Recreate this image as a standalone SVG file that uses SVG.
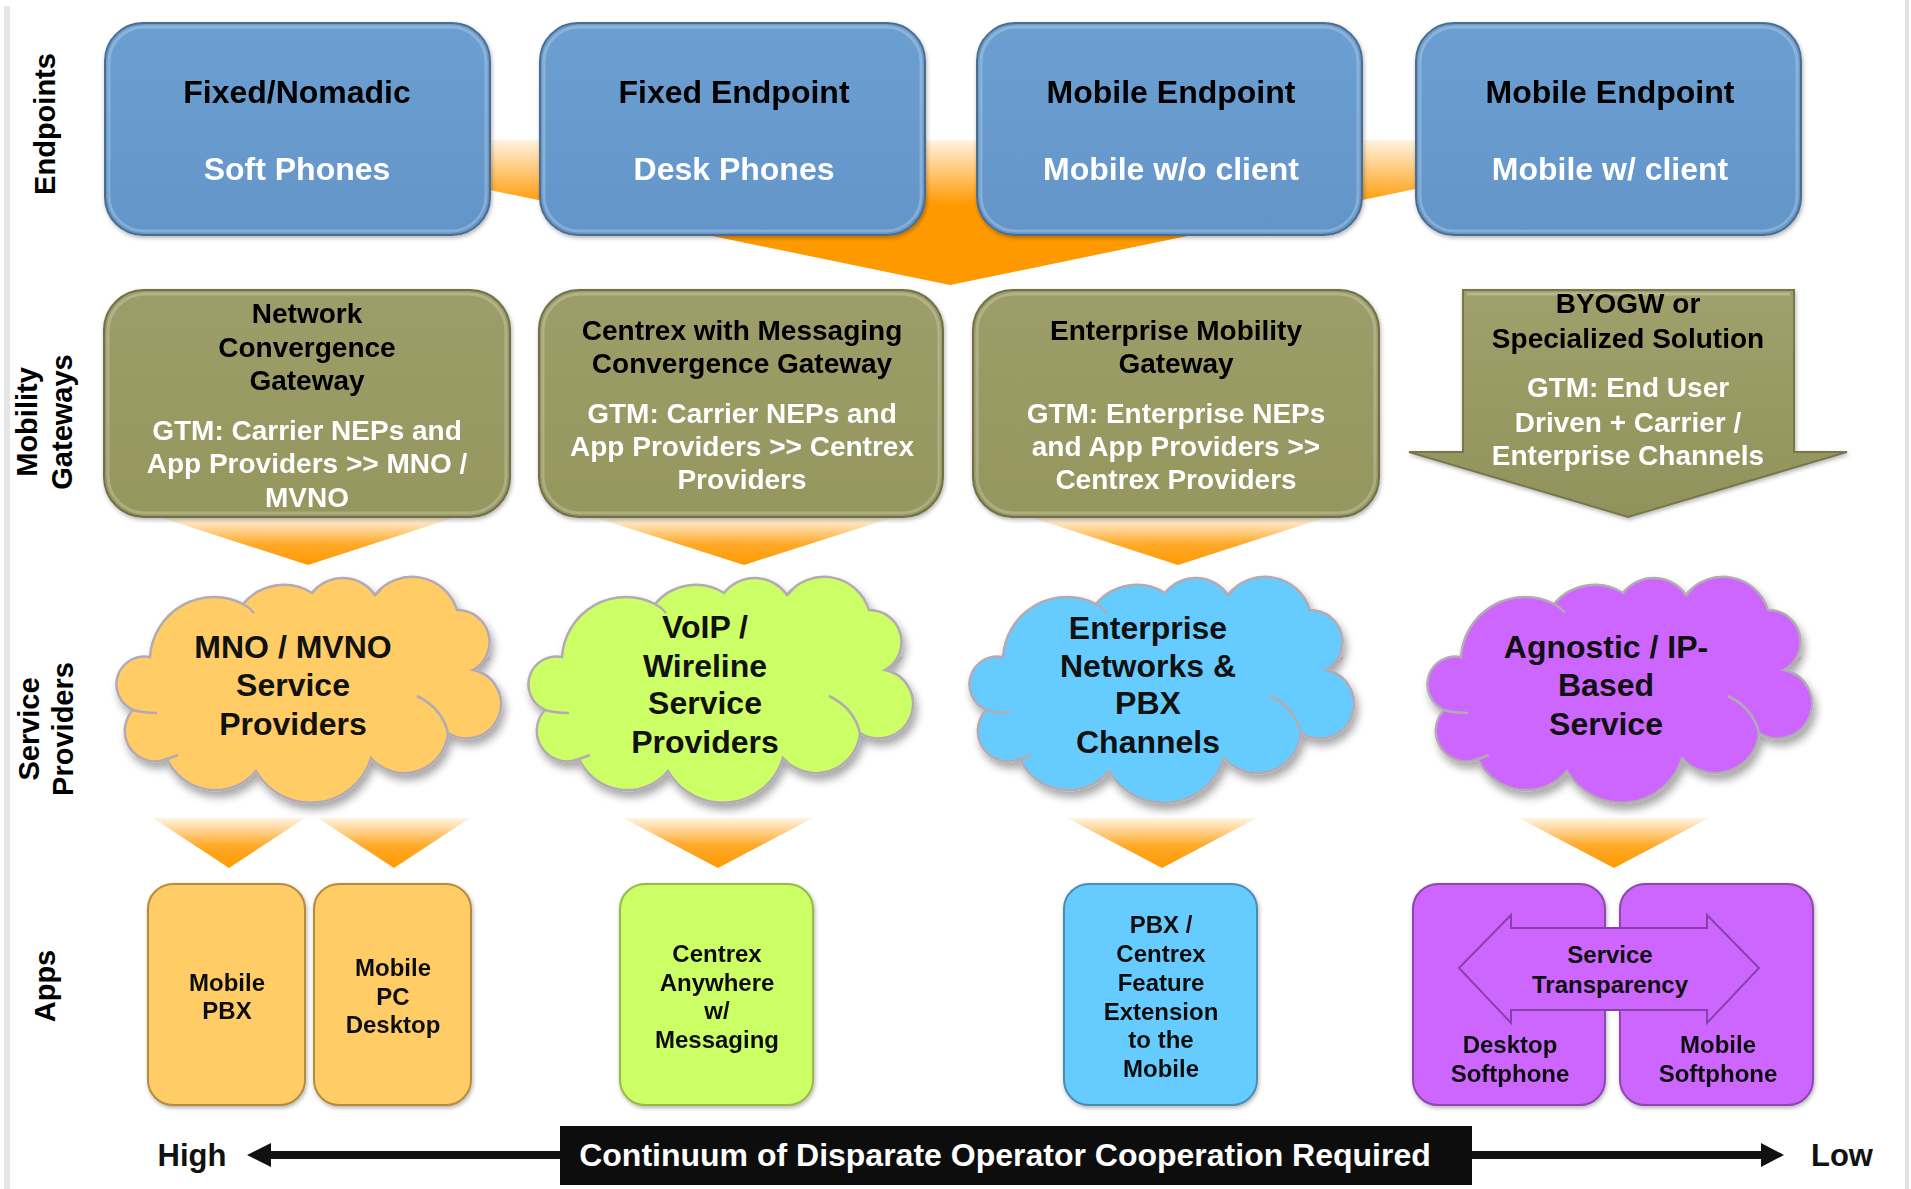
<svg xmlns="http://www.w3.org/2000/svg" width="1911" height="1189" viewBox="0 0 1911 1189">
<defs>
<style>
.t{font-family:"Liberation Sans",Arial,Helvetica,sans-serif;font-weight:bold;text-anchor:middle}
.ep1{font-size:32px;fill:#000}
.ep2{font-size:32px;fill:#fff}
.gw1{font-size:28px;fill:#000}
.gw2{font-size:28px;fill:#fff}
.cl{font-size:32px;fill:#111}
.ap{font-size:24px;fill:#111}
.side{font-size:29px;fill:#000}
.ep{fill:url(#gBlue);stroke:#4d6d8f;stroke-width:2}
.gw{fill:url(#gOlive);stroke:#6f6f48;stroke-width:2}
.rim{fill:none;stroke:#ffffff;stroke-opacity:0.22;stroke-width:3}
.cloudline{fill:none;stroke:#b3aab3;stroke-width:2.5}
.tri{fill:url(#gOr)}
.apo{fill:#ffcc66;stroke:#b38c3e;stroke-width:2}
.apg{fill:#ccff66;stroke:#98b84a;stroke-width:2}
.apb{fill:#66ccff;stroke:#4a8db3;stroke-width:2}
.app{fill:#cc66ff;stroke:#8e46ad;stroke-width:2}
</style>
<linearGradient id="gBlue" x1="0" y1="0" x2="0" y2="1">
<stop offset="0" stop-color="#6c9fd1"/><stop offset="1" stop-color="#6395c9"/>
</linearGradient>
<linearGradient id="gOlive" x1="0" y1="0" x2="0" y2="1">
<stop offset="0" stop-color="#9d9d69"/><stop offset="1" stop-color="#96965f"/>
</linearGradient>
<linearGradient id="gOr" x1="0" y1="0" x2="0" y2="1">
<stop offset="0" stop-color="#fff4e3"/><stop offset="0.55" stop-color="#ffaa2a"/><stop offset="1" stop-color="#ff9900"/>
</linearGradient>
<linearGradient id="gBig" gradientUnits="userSpaceOnUse" x1="0" y1="140" x2="0" y2="205">
<stop offset="0" stop-color="#fff3e2"/><stop offset="1" stop-color="#ff9900"/>
</linearGradient>
<linearGradient id="gArrow" x1="0" y1="0" x2="0" y2="1">
<stop offset="0" stop-color="#a0a06c"/><stop offset="1" stop-color="#92925c"/>
</linearGradient>
<filter id="sh" x="-10%" y="-10%" width="130%" height="140%">
<feGaussianBlur in="SourceAlpha" stdDeviation="4"/>
<feOffset dx="3" dy="6"/>
<feComponentTransfer><feFuncA type="linear" slope="0.35"/></feComponentTransfer>
<feMerge><feMergeNode/><feMergeNode in="SourceGraphic"/></feMerge>
</filter>
<filter id="sh2" x="-10%" y="-10%" width="130%" height="130%">
<feGaussianBlur in="SourceAlpha" stdDeviation="2"/>
<feOffset dx="1" dy="2"/>
<feComponentTransfer><feFuncA type="linear" slope="0.3"/></feComponentTransfer>
<feMerge><feMergeNode/><feMergeNode in="SourceGraphic"/></feMerge>
</filter>
<path id="cloud" d="M35,80 A64,64 0 0 1 128,27 A53,53 0 0 1 197,16 A39,39 0 0 1 260,18 A47,47 0 0 1 342,33 A32,32 0 0 1 358,93 A34.5,34.5 0 1 1 333,156 A44,44 0 0 1 256,181 A63,63 0 0 1 141,194 A53,53 0 0 1 52,182 A30.5,30.5 0 0 1 18,133 A28,28 0 0 1 35,80 Z"/>
<path id="cloudIn" d="M302,119 Q327,131 333,156 M358,93 Q368,88 375,80 M18,133 Q28,136 42,136 M128,27 Q134,30 139,36 M52,182 Q58,180 63,178 M260,18 Q263,15 266,12"/>
</defs>

<rect x="0" y="0" width="1911" height="1189" fill="#ffffff"/>
<rect x="4" y="6" width="6" height="1183" fill="#e6e6e6"/>
<rect x="1905" y="0" width="4" height="1189" fill="#e2e2e2"/>

<!-- side labels -->
<g id="side-labels" class="t side">
<text transform="translate(55,124) rotate(-90)">Endpoints</text>
<text transform="translate(37,422) rotate(-90)">Mobility</text>
<text transform="translate(72,422) rotate(-90)">Gateways</text>
<text transform="translate(39,729) rotate(-90)">Service</text>
<text transform="translate(73,729) rotate(-90)">Providers</text>
<text transform="translate(55,986) rotate(-90)">Apps</text>
</g>

<!-- connectors (orange flow arrows) -->
<g id="connectors">
<polygon points="470,140 1430,140 1430,186 950,285 470,186" fill="url(#gBig)"/>
<polygon class="tri" points="162,518 453,518 308,565"/>
<polygon class="tri" points="597,518 891,518 744,565"/>
<polygon class="tri" points="1033,518 1324,518 1178,565"/>
<polygon class="tri" points="153,818 305,818 229,868"/>
<polygon class="tri" points="318,818 470,818 394,868"/>
<polygon class="tri" points="623,818 813,818 718,868"/>
<polygon class="tri" points="1067,818 1257,818 1162,868"/>
<polygon class="tri" points="1519,818 1709,818 1614,868"/>
</g>

<!-- Endpoints -->
<g id="ep-fixed-nomadic" filter="url(#sh2)">
<rect class="ep" x="105" y="23" width="385" height="212" rx="38"/>
<rect class="rim" x="109" y="27" width="377" height="204" rx="35"/>
<text class="t ep1" x="297" y="103">Fixed/Nomadic</text>
<text class="t ep2" x="297" y="180">Soft Phones</text>
</g>
<g id="ep-fixed-endpoint" filter="url(#sh2)">
<rect class="ep" x="540" y="23" width="385" height="212" rx="38"/>
<rect class="rim" x="544" y="27" width="377" height="204" rx="35"/>
<text class="t ep1" x="734" y="103">Fixed Endpoint</text>
<text class="t ep2" x="734" y="180">Desk Phones</text>
</g>
<g id="ep-mobile-noclient" filter="url(#sh2)">
<rect class="ep" x="977" y="23" width="385" height="212" rx="38"/>
<rect class="rim" x="981" y="27" width="377" height="204" rx="35"/>
<text class="t ep1" x="1171" y="103">Mobile Endpoint</text>
<text class="t ep2" x="1171" y="180">Mobile w/o client</text>
</g>
<g id="ep-mobile-client" filter="url(#sh2)">
<rect class="ep" x="1416" y="23" width="385" height="212" rx="38"/>
<rect class="rim" x="1420" y="27" width="377" height="204" rx="35"/>
<text class="t ep1" x="1610" y="103">Mobile Endpoint</text>
<text class="t ep2" x="1610" y="180">Mobile w/ client</text>
</g>

<!-- Mobility Gateways -->
<g id="gw-network" filter="url(#sh2)">
<rect class="gw" x="104" y="290" width="406" height="227" rx="40"/>
<rect class="rim" x="108" y="294" width="398" height="219" rx="37"/>
<text class="t gw1" x="307" y="323">Network</text>
<text class="t gw1" x="307" y="357">Convergence</text>
<text class="t gw1" x="307" y="390">Gateway</text>
<text class="t gw2" x="307" y="440">GTM: Carrier NEPs and</text>
<text class="t gw2" x="307" y="473">App Providers &gt;&gt; MNO /</text>
<text class="t gw2" x="307" y="507">MVNO</text>
</g>
<g id="gw-centrex" filter="url(#sh2)">
<rect class="gw" x="539" y="290" width="404" height="227" rx="40"/>
<rect class="rim" x="543" y="294" width="396" height="219" rx="37"/>
<text class="t gw1" x="742" y="340">Centrex with Messaging</text>
<text class="t gw1" x="742" y="373">Convergence Gateway</text>
<text class="t gw2" x="742" y="423">GTM: Carrier NEPs and</text>
<text class="t gw2" x="742" y="456">App Providers &gt;&gt; Centrex</text>
<text class="t gw2" x="742" y="489">Providers</text>
</g>
<g id="gw-enterprise" filter="url(#sh2)">
<rect class="gw" x="973" y="290" width="406" height="227" rx="40"/>
<rect class="rim" x="977" y="294" width="398" height="219" rx="37"/>
<text class="t gw1" x="1176" y="340">Enterprise Mobility</text>
<text class="t gw1" x="1176" y="373">Gateway</text>
<text class="t gw2" x="1176" y="423">GTM: Enterprise NEPs</text>
<text class="t gw2" x="1176" y="456">and App Providers &gt;&gt;</text>
<text class="t gw2" x="1176" y="489">Centrex Providers</text>
</g>
<g id="gw-byogw" filter="url(#sh2)">
<polygon points="1463,290 1794,290 1794,452 1847,452 1628,517 1409,452 1463,452" fill="url(#gArrow)" stroke="#77774c" stroke-width="2"/>
<polyline points="1467,294 1790,294" fill="none" stroke="#ffffff" stroke-opacity="0.25" stroke-width="3"/>
<text class="t gw1" x="1628" y="313">BYOGW or</text>
<text class="t gw1" x="1628" y="348">Specialized Solution</text>
<text class="t gw2" x="1628" y="397">GTM: End User</text>
<text class="t gw2" x="1628" y="432">Driven + Carrier /</text>
<text class="t gw2" x="1628" y="465">Enterprise Channels</text>
</g>

<!-- Service Providers (clouds) -->
<g id="sp-mno">
<g transform="translate(115,577)">
<use href="#cloud" fill="#ffcc66" stroke="#b3aab3" stroke-width="2.5" filter="url(#sh)"/>
<use href="#cloudIn" class="cloudline"/>
</g>
<text class="t cl" x="293" y="658">MNO / MVNO</text>
<text class="t cl" x="293" y="696">Service</text>
<text class="t cl" x="293" y="735">Providers</text>
</g>
<g id="sp-voip">
<g transform="translate(527,577)">
<use href="#cloud" fill="#ccff66" stroke="#b3aab3" stroke-width="2.5" filter="url(#sh)"/>
<use href="#cloudIn" class="cloudline"/>
</g>
<text class="t cl" x="705" y="638">VoIP /</text>
<text class="t cl" x="705" y="677">Wireline</text>
<text class="t cl" x="705" y="714">Service</text>
<text class="t cl" x="705" y="753">Providers</text>
</g>
<g id="sp-enterprise">
<g transform="translate(968,577)">
<use href="#cloud" fill="#66ccff" stroke="#b3aab3" stroke-width="2.5" filter="url(#sh)"/>
<use href="#cloudIn" class="cloudline"/>
</g>
<text class="t cl" x="1148" y="639">Enterprise</text>
<text class="t cl" x="1148" y="677">Networks &amp;</text>
<text class="t cl" x="1148" y="714">PBX</text>
<text class="t cl" x="1148" y="753">Channels</text>
</g>
<g id="sp-agnostic">
<g transform="translate(1426,577)">
<use href="#cloud" fill="#cc66ff" stroke="#b3aab3" stroke-width="2.5" filter="url(#sh)"/>
<use href="#cloudIn" class="cloudline"/>
</g>
<text class="t cl" x="1606" y="658">Agnostic / IP-</text>
<text class="t cl" x="1606" y="696">Based</text>
<text class="t cl" x="1606" y="735">Service</text>
</g>

<!-- Apps -->
<g id="app-mobile-pbx" filter="url(#sh2)">
<rect class="apo" x="148" y="884" width="157" height="221" rx="25"/>
<text class="t ap" x="227" y="991">Mobile</text>
<text class="t ap" x="227" y="1019">PBX</text>
</g>
<g id="app-mobile-pc" filter="url(#sh2)">
<rect class="apo" x="314" y="884" width="157" height="221" rx="25"/>
<text class="t ap" x="393" y="976">Mobile</text>
<text class="t ap" x="393" y="1005">PC</text>
<text class="t ap" x="393" y="1033">Desktop</text>
</g>
<g id="app-centrex" filter="url(#sh2)">
<rect class="apg" x="620" y="884" width="193" height="221" rx="25"/>
<text class="t ap" x="717" y="962">Centrex</text>
<text class="t ap" x="717" y="991">Anywhere</text>
<text class="t ap" x="717" y="1019">w/</text>
<text class="t ap" x="717" y="1048">Messaging</text>
</g>
<g id="app-pbx" filter="url(#sh2)">
<rect class="apb" x="1064" y="884" width="193" height="221" rx="25"/>
<text class="t ap" x="1161" y="933">PBX /</text>
<text class="t ap" x="1161" y="962">Centrex</text>
<text class="t ap" x="1161" y="991">Feature</text>
<text class="t ap" x="1161" y="1020">Extension</text>
<text class="t ap" x="1161" y="1048">to the</text>
<text class="t ap" x="1161" y="1077">Mobile</text>
</g>
<g id="app-desktop-softphone" filter="url(#sh2)">
<rect class="app" x="1413" y="884" width="192" height="221" rx="25"/>
<text class="t ap" x="1510" y="1053">Desktop</text>
<text class="t ap" x="1510" y="1082">Softphone</text>
</g>
<g id="app-mobile-softphone" filter="url(#sh2)">
<rect class="app" x="1620" y="884" width="193" height="221" rx="25"/>
<text class="t ap" x="1718" y="1053">Mobile</text>
<text class="t ap" x="1718" y="1082">Softphone</text>
</g>
<g id="app-service-transparency">
<polygon points="1459,968 1511,915 1511,928 1707,928 1707,915 1759,968 1707,1023 1707,1010 1511,1010 1511,1023" fill="#cc66ff" stroke="#8a40aa" stroke-width="2"/>
<text class="t ap" x="1610" y="963">Service</text>
<text class="t ap" x="1610" y="993">Transparency</text>
</g>

<!-- Continuum axis -->
<g id="continuum">
<rect x="271" y="1151" width="290" height="8" fill="#111"/>
<polygon points="247,1155 271,1143 271,1167" fill="#111"/>
<rect x="1471" y="1151" width="291" height="8" fill="#111"/>
<polygon points="1784,1155 1761,1143 1761,1167" fill="#111"/>
<rect x="560" y="1126" width="912" height="59" fill="#0d0d0d"/>
<text class="t" x="1005" y="1166" font-size="32" fill="#ffffff">Continuum of Disparate Operator Cooperation Required</text>
<text class="t" x="192" y="1166" font-size="31" fill="#111">High</text>
<text class="t" x="1842" y="1166" font-size="31" fill="#111">Low</text>
</g>
</svg>
